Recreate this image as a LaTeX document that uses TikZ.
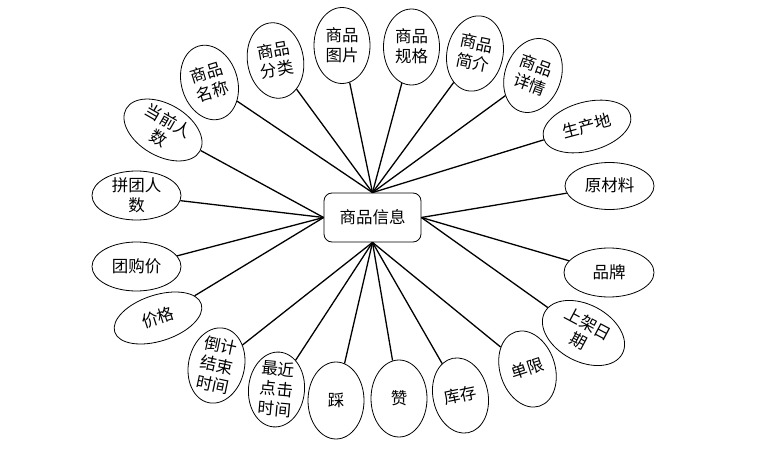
\documentclass[tikz,border=0pt]{standalone}
\usepackage{fontspec}
\newfontfamily\cjk{Noto Sans CJK SC}
\usetikzlibrary{shapes.geometric}
\newcommand\etxt[1]{\smash{\raisebox{-6pt}{\begin{tabular}{@{}c@{}}#1\end{tabular}}}}
\tikzset{
  attr/.style={draw, ellipse, line width=0.8pt, inner sep=0pt, fill=white},
  vattr/.style={attr, minimum width=56pt, minimum height=76pt},
  hattr/.style={attr, minimum width=89pt, minimum height=48pt},
  entity/.style={draw, rectangle, rounded corners=8pt, line width=0.8pt, minimum width=97pt, minimum height=49pt, fill=white},
  conn/.style={line width=1.3pt},
}
\begin{document}
\begin{tikzpicture}[x=1pt,y=1pt,font=\cjk\fontsize{16.5}{20}\selectfont]
\useasboundingbox (0,0) rectangle (769,-460);
\node[entity] (c) at (372.5,-217.5) {商品信息};
% top
\node[vattr, rotate=17] (e1) at (209.5,-82.5) {\etxt{商品\\名称}};
\node[vattr, rotate=10] (e2) at (275.5,-60.5) {\etxt{商品\\分类}};
\node[vattr] (e3) at (342,-45.5) {\etxt{商品\\图片}};
\node[vattr] (e4) at (411.5,-47) {\etxt{商品\\规格}};
\node[vattr, rotate=-12] (e5) at (475,-53.5) {\etxt{商品\\简介}};
\node[vattr, rotate=-20] (e6) at (533,-75.5) {\etxt{商品\\详情}};
\node[hattr, minimum width=90pt, minimum height=49pt, rotate=15] (e7) at (587,-126.5) {\etxt{生产地}};
% right
\node[hattr, minimum height=47pt] (e8) at (609.5,-186) {\etxt{原材料}};
\node[hattr, minimum width=90pt, minimum height=49pt] (e9) at (609,-272.5) {\etxt{品牌}};
\node[hattr, minimum width=88pt, minimum height=57pt, rotate=-28] (e10) at (583.5,-333) {\etxt{上架日\\期}};
% bottom
\node[vattr, minimum width=55pt, minimum height=78pt, rotate=18] (e11) at (527.5,-369) {\etxt{单限}};
\node[vattr, minimum width=55pt, rotate=12] (e12) at (460.5,-395.5) {\etxt{库存}};
\node[vattr, minimum height=77pt] (e13) at (399,-398.5) {\etxt{赞}};
\node[vattr, minimum height=77pt] (e14) at (336,-400.5) {\etxt{踩}};
\node[vattr, minimum height=75pt, rotate=-5] (e15) at (276.5,-389.5) {\etxt{最近\\点击\\时间}};
\node[vattr, rotate=-12] (e16) at (216.5,-365.5) {\etxt{倒计\\结束\\时间}};
% left
\node[hattr, minimum width=91pt, minimum height=46pt, rotate=18] (e17) at (158,-318) {\etxt{价格}};
\node[hattr, minimum height=49pt] (e18) at (136.5,-266.5) {\etxt{团购价}};
\node[hattr, minimum height=49pt] (e19) at (136.5,-195.5) {\etxt{拼团人\\数}};
\node[hattr, minimum width=85pt, minimum height=52pt, rotate=-30] (e20) at (163,-130) {\etxt{当前人\\数}};
% connectors
\foreach \e in {e1,e2,e3,e4,e5,e6,e7} \draw[conn] (c.north) -- (\e);
\foreach \e in {e8,e9,e10} \draw[conn] (c.east) -- (\e);
\foreach \e in {e11,e12,e13,e14,e15,e16} \draw[conn] (c.south) -- (\e);
\foreach \e in {e17,e18,e19,e20} \draw[conn] (c.west) -- (\e);
\end{tikzpicture}
\end{document}
